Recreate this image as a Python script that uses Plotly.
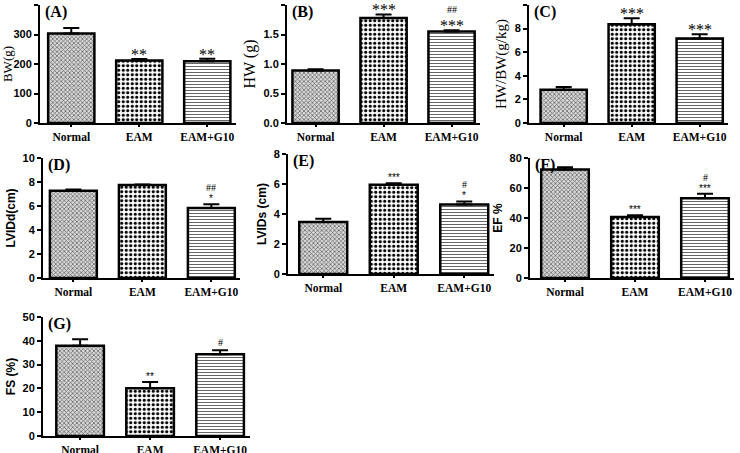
import plotly.graph_objects as go

categories = ["Normal", "EAM", "EAM+G10"]

bw_mean = [303, 212, 209]
bw_err = [19, 5, 9]
hw_mean = [0.89, 1.78, 1.55]
hw_err = [0.02, 0.06, 0.02]
hwbw_mean = [2.81, 8.37, 7.16]
hwbw_err = [0.24, 0.5, 0.37]
lvidd_mean = [7.28, 7.74, 5.83]
lvidd_err = [0.1, 0.06, 0.32]
lvids_mean = [3.47, 5.95, 4.64]
lvids_err = [0.22, 0.1, 0.2]
ef_mean = [72.3, 40.6, 53.2]
ef_err = [1.6, 1.3, 2.9]
fs_mean = [37.9, 20.1, 34.4]
fs_err = [2.8, 2.6, 1.6]

sig_a = ["", "**", "**"]
sig_b = ["", "***", "***"]
hash_b = ["", "", "##"]
sig_c = ["", "***", "***"]
sig_d = ["", "", "*"]
hash_d = ["", "", "##"]
sig_e = ["", "***", "*"]
hash_e = ["", "", "#"]
sig_f = ["", "***", "***"]
hash_f = ["", "", "#"]
sig_g = ["", "**", ""]
hash_g = ["", "", "#"]

W, H = 740, 453
SERIF = "Liberation Serif"
SANS = "Liberation Sans"

# panel layout: (label, mean, err, sig, hash, ytitle, title font, title size, yrange, dtick,
#                y-axis px, top px, bottom px, first center offset, spacing, serif marks)
panels = [
    ("(A)", bw_mean, bw_err, sig_a, None, "BW(g)", SERIF, 13, 400, 100, 40, 5, 123, 0.46, 68, True),
    ("(B)", hw_mean, hw_err, sig_b, hash_b, "HW (g)", SERIF, 16, 2.0, 0.5, 287, 5, 123, 0.42, 68, True),
    ("(C)", hwbw_mean, hwbw_err, sig_c, None, "HW/BW(g/kg)", SERIF, 15, 10, 2, 529, 5, 123, 0.51, 68, True),
    ("(D)", lvidd_mean, lvidd_err, sig_d, hash_d, "LVIDd(cm)", SANS, 12, 10, 2, 43, 158, 278, 0.44, 69, False),
    ("(E)", lvids_mean, lvids_err, sig_e, hash_e, "LVIDs (cm)", SANS, 12, 8, 2, 288, 154, 274, 0.50, 70.5, False),
    ("(F)", ef_mean, ef_err, sig_f, hash_f, "EF %", SANS, 12, 80, 20, 530, 158, 278, 0.50, 70, False),
    ("(G)", fs_mean, fs_err, sig_g, hash_g, "FS (%)", SANS, 12, 50, 10, 43, 317, 436, 0.53, 70, False),
]

patterns = [
    dict(shape="x", fgcolor="#5a5a5a", bgcolor="#d8d8d8", size=3, solidity=0.4),
    dict(shape=".", fgcolor="black", bgcolor="white", size=4.5, solidity=0.4),
    dict(shape="-", fgcolor="#555555", bgcolor="white", size=3, solidity=0.3),
]

fig = go.Figure()
annotations = []
layout_axes = {}

for i, (lab, mean, err, sig, hsh, ytitle, tfont, tsize, ymax, dtick, ax_px, top_px, bot_px,
        off, spacing, serif) in enumerate(panels):
    n = i + 1
    xa = "x" if n == 1 else f"x{n}"
    ya = "y" if n == 1 else f"y{n}"
    xr = [-off, 2.42]
    x0 = ax_px
    x1 = min(ax_px + (xr[1] - xr[0]) * spacing, W - 2)
    xr[1] = xr[0] + (x1 - x0) / spacing
    for j in range(3):
        fig.add_trace(go.Bar(
            x=[categories[j]], y=[mean[j]], xaxis=xa, yaxis=ya, width=0.68,
            marker=dict(color="white", pattern=patterns[j], line=dict(color="black", width=2.5)),
            error_y=dict(type="data", symmetric=False, array=[err[j]], arrayminus=[0],
                         color="black", thickness=2, width=8),
            showlegend=False, hoverinfo="skip",
        ))
    xkey = "xaxis" if n == 1 else f"xaxis{n}"
    ykey = "yaxis" if n == 1 else f"yaxis{n}"
    layout_axes[xkey] = dict(
        domain=[x0 / W, x1 / W], anchor=ya, range=xr, type="category", automargin=False,
        categoryorder="array", categoryarray=categories,
        showline=True, linecolor="black", linewidth=2, ticks="outside", ticklen=2,
        tickwidth=2, tickcolor="black", showgrid=False, zeroline=False,
        tickfont=dict(family=SERIF, size=11.5, color="#000000", weight="bold"),
    )
    layout_axes[ykey] = dict(
        domain=[1 - bot_px / H, 1 - top_px / H], anchor=xa, range=[0, ymax], automargin=False,
        dtick=dtick, tick0=0, showline=True, linecolor="black", linewidth=2,
        ticks="outside", ticklen=4, tickwidth=2, tickcolor="black", showgrid=False,
        zeroline=False, tickformat=".1f" if dtick < 1 else "d",
        tickfont=dict(family=SANS, size=11, color="#000000", weight="bold"),
        title=dict(text=ytitle, standoff=4,
                   font=dict(family=tfont, size=tsize, color="#000000",
                             weight="normal" if serif else "bold")),
    )
    annotations.append(dict(
        x=0.0, y=1.0, xref=f"{xa} domain", yref=f"{ya} domain", text=lab,
        showarrow=False, xanchor="left", yanchor="top", xshift=3, yshift=4,
        font=dict(family=SERIF, size=16, color="#000000", weight="bold"),
    ))
    for j in range(3):
        top = mean[j] + err[j]
        s = sig[j]
        shift = 0
        if s:
            if serif:
                annotations.append(dict(
                    x=categories[j], y=top, xref=xa, yref=ya, text=s, showarrow=False,
                    yanchor="bottom", yshift=-6,
                    font=dict(family=SERIF, size=16, color="#000000")))
                shift = 13
            else:
                annotations.append(dict(
                    x=categories[j], y=top, xref=xa, yref=ya, text=s, showarrow=False,
                    yanchor="bottom", yshift=-2,
                    font=dict(family=SANS, size=10, color="#000000")))
                shift = 9
        if hsh and hsh[j]:
            annotations.append(dict(
                x=categories[j], y=top, xref=xa, yref=ya, text=hsh[j], showarrow=False,
                yanchor="bottom", yshift=shift,
                font=dict(family=SERIF, size=10, color="#000000")))

fig.update_layout(
    template="none",
    width=W, height=H, margin=dict(l=0, r=0, t=0, b=0, autoexpand=False),
    paper_bgcolor="white", plot_bgcolor="white",
    annotations=annotations, **layout_axes,
)

fig.write_html(
    "out.html",
    config={"displayModeBar": False, "staticPlot": True},
    post_script="document.body.style.margin='0';document.body.style.padding='0';"
                "document.body.style.overflow='hidden';",
)
